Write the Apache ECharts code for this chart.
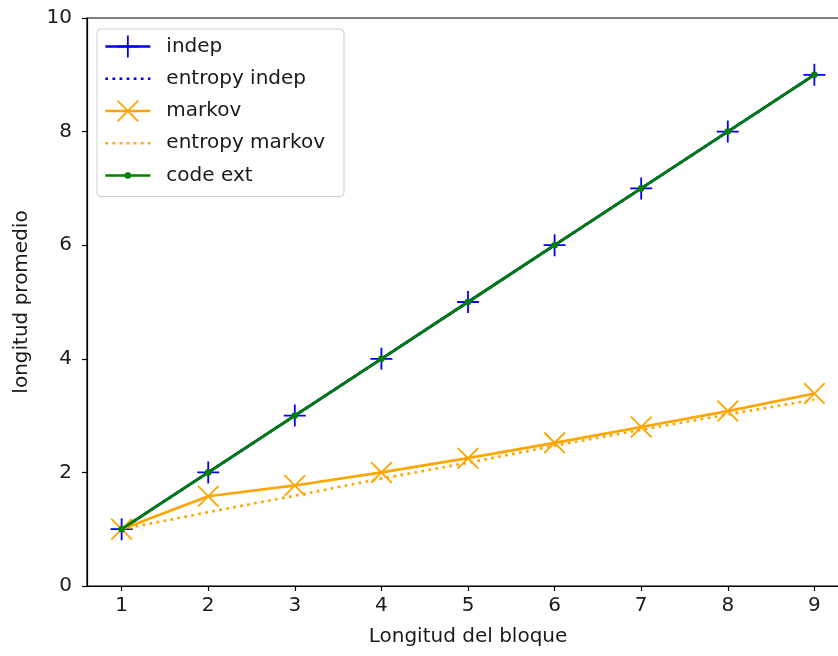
<!DOCTYPE html>
<html>
<head>
<meta charset="utf-8">
<script src="https://cdn.jsdelivr.net/npm/echarts@6/dist/echarts.min.js"></script>
<style>html,body{margin:0;padding:0;background:#fff}#c{width:838px;height:656px}</style>
</head>
<body>
<div id="c"></div>
<script>
// ---- data ----
var blockLen = [1, 2, 3, 4, 5, 6, 7, 8, 9];
var indep = [1, 2, 3, 4, 5, 6, 7, 8, 9];
var entropyIndep = [1, 2, 3, 4, 5, 6, 7, 8, 9];
var markov = [1.0, 1.58, 1.77, 2.0, 2.25, 2.52, 2.80, 3.08, 3.39];
var entropyMarkov = [1.0, 1.30, 1.59, 1.89, 2.17, 2.47, 2.75, 3.02, 3.28];
var codeExt = [1, 2, 3, 4, 5, 6, 7, 8, 9];
var xTicks = [1, 2, 3, 4, 5, 6, 7, 8, 9];
var seriesNames = ['indep', 'entropy indep', 'markov', 'entropy markov', 'code ext'];
var xTitle = 'Longitud del bloque';
var yTitle = 'longitud promedio';

function pairs(xs, ys) { return xs.map(function (x, i) { return [x, ys[i]]; }); }

var PLUS = 'path://M10.1,0H11.9V22H10.1Z M0,10.1H22V11.9H0Z';
var CROSS = 'path://M0,1.3L1.3,0L22,20.7L20.7,22Z M20.7,0L22,1.3L1.3,22L0,20.7Z';
var DOT = 'path://M0,0h0.01v0.01h-0.01Z M21.99,21.99h0.01v0.01h-0.01Z M7.7,11A3.3,3.3 0 1 1 14.3,11A3.3,3.3 0 1 1 7.7,11Z';
var FONT = 'DejaVu Sans';
var TXT = '#1a1a1a';
var CLEAR = 'rgba(0,0,0,0)';

var chart = echarts.init(document.getElementById('c'), null, { renderer: 'canvas' });
chart.setOption({
  animation: false,
  backgroundColor: '#fff',
  textStyle: { fontFamily: FONT },
  grid: {
    left: 87, right: -11, top: 18, bottom: 70,
    containLabel: false, outerBoundsMode: 'none',
    show: true, borderColor: '#000', borderWidth: 1.2, backgroundColor: 'transparent'
  },
  legend: {
    orient: 'vertical', left: 97, top: 29,
    padding: [6.5, 19, 10, 7],
    itemWidth: 45, itemHeight: 27.5, itemGap: 10.25,
    borderColor: '#cccccc', borderWidth: 1, borderRadius: 4,
    backgroundColor: 'rgba(255,255,255,0.8)',
    lineStyle: { width: 2.7 },
    textStyle: { fontFamily: FONT, fontSize: 20, color: TXT, padding: [0, 0, 0, 11] },
    data: seriesNames
  },
  xAxis: {
    type: 'value', min: 0.6, max: 9.4,
    name: xTitle, nameLocation: 'middle', nameGap: 41,
    nameTextStyle: { fontFamily: FONT, fontSize: 20, color: TXT },
    axisLine: { show: true, onZero: false, lineStyle: { color: '#000', width: 1.2 } },
    axisTick: { show: true, length: 5, inside: false, customValues: xTicks, lineStyle: { color: '#000', width: 1.2 } },
    axisLabel: { show: true, customValues: xTicks, margin: 10, fontFamily: FONT, fontSize: 20, color: TXT },
    splitLine: { show: false }
  },
  yAxis: {
    type: 'value', min: 0, max: 10, interval: 2,
    name: yTitle, nameLocation: 'middle', nameGap: 55, nameRotate: 90,
    nameTextStyle: { fontFamily: FONT, fontSize: 20, color: TXT },
    axisLine: { show: true, lineStyle: { color: '#000', width: 1.2 } },
    axisTick: { show: true, length: 5, inside: false, lineStyle: { color: '#000', width: 1.2 } },
    axisLabel: { show: true, margin: 15, fontFamily: FONT, fontSize: 20, color: TXT },
    splitLine: { show: false }
  },
  series: [
    {
      name: seriesNames[0], type: 'line', data: pairs(blockLen, indep),
      symbol: PLUS, symbolSize: 22, showSymbol: true,
      lineStyle: { color: '#0000ff', width: 2.7 },
      itemStyle: { color: '#0000ff' }, z: 2
    },
    {
      name: seriesNames[1], type: 'line', data: pairs(blockLen, entropyIndep),
      symbol: 'circle', symbolSize: 1, showSymbol: false,
      lineStyle: { color: '#0000ff', width: 2.7, type: [2.7, 4.4], cap: 'butt' },
      itemStyle: { color: CLEAR }, z: 3
    },
    {
      name: seriesNames[2], type: 'line', data: pairs(blockLen, markov),
      symbol: CROSS, symbolSize: 22, showSymbol: true,
      lineStyle: { color: '#ffa500', width: 2.7 },
      itemStyle: { color: '#ffa500' }, z: 4
    },
    {
      name: seriesNames[3], type: 'line', data: pairs(blockLen, entropyMarkov),
      symbol: 'circle', symbolSize: 1, showSymbol: false,
      lineStyle: { color: '#ffa500', width: 2.7, type: [2.7, 4.4], cap: 'butt' },
      itemStyle: { color: CLEAR }, z: 5
    },
    {
      name: seriesNames[4], type: 'line', data: pairs(blockLen, codeExt),
      symbol: DOT, symbolSize: 22, showSymbol: true,
      lineStyle: { color: '#008000', width: 2.7 },
      itemStyle: { color: '#008000' }, z: 6
    }
  ]
});
</script>
</body>
</html>
